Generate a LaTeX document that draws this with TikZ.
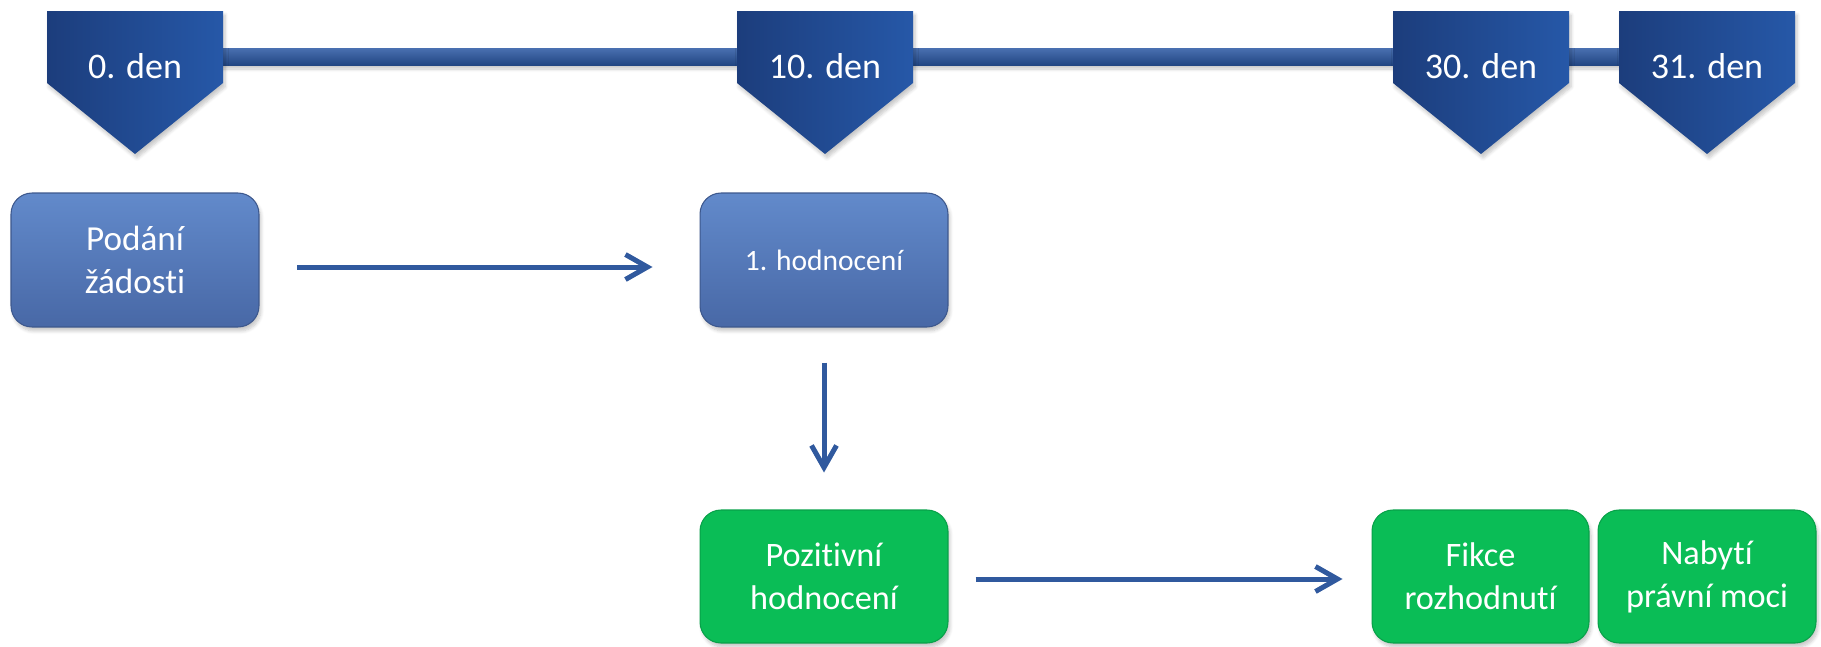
\documentclass[tikz,border=0pt]{standalone}
\usepackage{fontspec}
\setmainfont{Carlito}[RawFeature=-liga]
\usepackage{tikz}
\usetikzlibrary{arrows.meta,shadows.blur}

\definecolor{znackaL}{HTML}{1C3D7C}
\definecolor{znackaR}{HTML}{2658A8}
\definecolor{osa}{HTML}{2A57A3}
\definecolor{modraT}{HTML}{628ACB}
\definecolor{modraB}{HTML}{4868A6}
\definecolor{zelena}{HTML}{0ABD56}
\definecolor{sipkaB}{HTML}{30599E}

\tikzset{
  stin/.style={blur shadow={shadow xshift=0.04cm, shadow yshift=-0.08cm, shadow opacity=22, shadow blur steps=6}},
  modra/.style={draw=modraB!85!black, line width=0.6pt, rounded corners=0.42cm, top color=modraT, bottom color=modraB,
    minimum width=4.96cm, minimum height=2.68cm, align=center, text=white, stin,
    font=\fontsize{20}{24.5}\selectfont},
  zelena/.style={draw=zelena!85!black, line width=0.6pt, rounded corners=0.42cm, fill=zelena,
    minimum height=2.66cm, align=center, text=white, stin,
    font=\fontsize{19.5}{24.5}\selectfont},
  sipka/.style={draw=sipkaB, line width=0.1cm, -{Straight Barb[length=0.44cm,width=0.5cm]}}
}

\begin{document}
\begin{tikzpicture}[x=0.02cm,y=-0.02cm]
        \useasboundingbox (0,0) rectangle (1821,646);

        %casova osa
        \fill[stin, top color=osa!85!white, bottom color=osa!80!black] (215,48) rectangle (1625,65);

        \foreach \cx/\den in {135/0,825/10,1481/30,1707/31}{
            %znacky
            \shade[stin, left color=znackaL, right color=znackaR]
            (\cx-88,11) -- (\cx+88,11) -- (\cx+88,83) -- (\cx,154) -- (\cx-88,83) -- cycle;
            \node[text=white, font=\fontsize{20.5}{24}\selectfont, anchor=base] (den\den) at (\cx,78) {\den. den};
        }

        %krabice
        \node[modra] (podani) at (135,260) {Podání\\žádosti};
        \node[modra, font=\fontsize{16.8}{20}\selectfont] (hodnoceni) at (824,260) {1. hodnocení};
        \node[zelena, minimum width=4.96cm] (pozitivni) at (824,576.5) {Pozitivní\\hodnocení};
        \node[zelena, minimum width=4.34cm] (fikce) at (1480.5,576.5) {Fikce\\rozhodnutí};
        \node[zelena, minimum width=4.36cm] (nabyti) at (1707,576.5) {Nabytí\\právní moci};

        %sipky
        \draw[sipka, shorten <=0.76cm, shorten >=0.94cm]
            ([yshift=-0.14cm]podani.east) -- ([yshift=-0.14cm]hodnoceni.west);
        \draw[sipka, shorten <=0.7cm, shorten >=0.74cm] (hodnoceni.south) -- (pozitivni.north);
        \draw[sipka, shorten <=0.54cm, shorten >=0.58cm]
            ([yshift=-0.05cm]pozitivni.east) -- ([yshift=-0.05cm]fikce.west);

    \end{tikzpicture}
\end{document}
